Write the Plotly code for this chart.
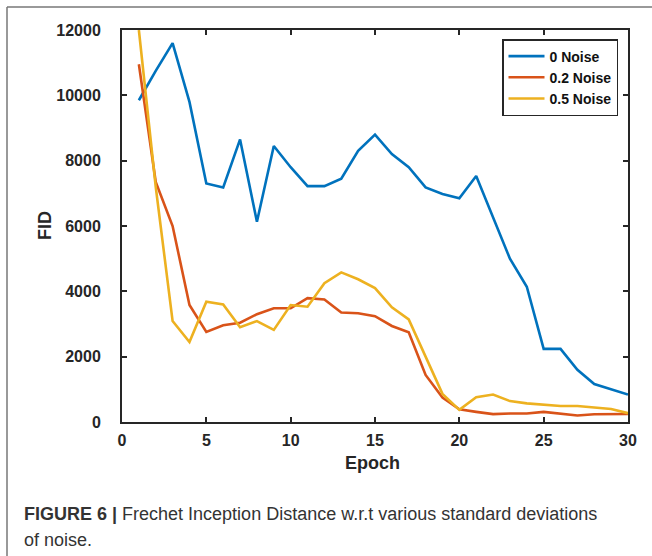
import plotly.graph_objects as go

epochs = list(range(1, 31))
noise_0 = [9850, 10750, 11600, 9800, 7300, 7180, 8650, 6130, 8450, 7800,
           7220, 7220, 7450, 8300, 8800, 8200, 7800, 7180, 6980, 6850,
           7530, 6250, 5000, 4140, 2240, 2240, 1600, 1160, 1000, 840]
noise_02 = [10950, 7350, 6000, 3580, 2760, 2960, 3040, 3300, 3480, 3480,
            3790, 3750, 3350, 3330, 3240, 2940, 2750, 1440, 750, 390,
            310, 240, 260, 260, 310, 260, 200, 235, 245, 245]
noise_05 = [12000, 7200, 3090, 2450, 3680, 3600, 2900, 3090, 2820, 3580,
            3530, 4250, 4580, 4370, 4100, 3510, 3140, 2000, 860, 370,
            760, 840, 640, 570, 520, 490, 490, 440, 400, 270]
series_names = ["0 Noise", "0.2 Noise", "0.5 Noise"]
series_colors = ["#0072BD", "#D95319", "#EDB120"]
x_ticks = [0, 5, 10, 15, 20, 25, 30]
y_ticks = [0, 2000, 4000, 6000, 8000, 10000, 12000]

W, H = 652, 556
L, R, T, B = 122, 24, 30, 134
pw, ph = W - L - R, H - T - B

def px_x(px):
    return (px - L) / pw

def px_y(py):
    return (H - B - py) / ph

fig = go.Figure()
for name, vals, col in zip(series_names, [noise_0, noise_02, noise_05], series_colors):
    fig.add_trace(go.Scatter(x=epochs, y=vals, mode="lines", name=name,
                             line=dict(color=col, width=2.6)))

axis_common = dict(
    showgrid=False, zeroline=False, showline=True, linecolor="#262626", linewidth=2,
    mirror="allticks", ticks="inside", ticklen=5, tickwidth=2, tickcolor="#262626",
    tickfont=dict(family="Liberation Sans", size=16, color="#262626", weight="bold"),
)
fig.update_xaxes(range=[0, 30], tickvals=x_ticks, ticklabelstandoff=3, **axis_common)
fig.update_yaxes(range=[0, 12000], tickvals=y_ticks, tickformat="d",
                 ticklabelstandoff=16, **axis_common)

fig.update_layout(
    width=W, height=H, margin=dict(l=L, r=R, t=T, b=B, autoexpand=False),
    plot_bgcolor="white", paper_bgcolor="white",
    legend=dict(x=px_x(618), y=px_y(39), xanchor="right", yanchor="top",
                bordercolor="#262626", borderwidth=1.5, bgcolor="white",
                itemwidth=36, tracegroupgap=0,
                font=dict(family="Liberation Sans", size=14, color="#111", weight="bold")),
    showlegend=True,
)

fig.add_annotation(text="<b>FID</b>", xref="paper", yref="paper", x=px_x(45), y=0.5,
                   textangle=-90, showarrow=False, xanchor="center", yanchor="middle",
                   font=dict(family="Liberation Sans", size=18, color="#262626"))
fig.add_annotation(text="<b>Epoch</b>", xref="paper", yref="paper", x=px_x(372), y=px_y(463),
                   showarrow=False, xanchor="center", yanchor="middle",
                   font=dict(family="Liberation Sans", size=18, color="#262626"))
cap_font = dict(family="Liberation Sans Narrow, Liberation Sans", size=18, color="#333")
fig.add_annotation(text="<b>FIGURE 6 |</b> Frechet Inception Distance w.r.t various standard deviations",
                   xref="paper", yref="paper", x=px_x(22), y=px_y(514), showarrow=False,
                   xanchor="left", yanchor="middle", font=cap_font)
fig.add_annotation(text="of noise.", xref="paper", yref="paper", x=px_x(22), y=px_y(540),
                   showarrow=False, xanchor="left", yanchor="middle", font=cap_font)

border = dict(color="#777", width=1.5)
fig.add_shape(type="line", xref="paper", yref="paper", x0=px_x(7), x1=px_x(7),
              y0=px_y(7), y1=px_y(560), line=border)
fig.add_shape(type="line", xref="paper", yref="paper", x0=px_x(7), x1=px_x(660),
              y0=px_y(7), y1=px_y(7), line=border)

fig.write_html("out.html")
